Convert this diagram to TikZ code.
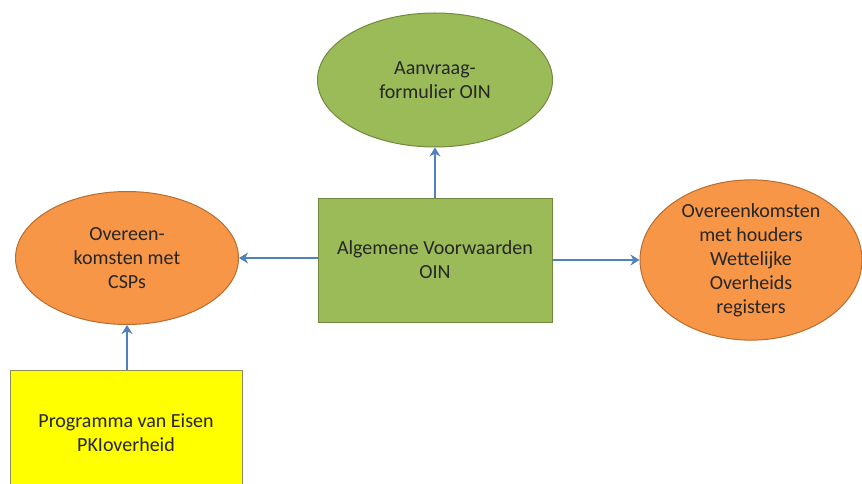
\documentclass[tikz,border=0pt]{standalone}
\usepackage{fontspec}
\setmainfont{Carlito}
\usetikzlibrary{shapes.geometric,arrows.meta}
\definecolor{oin}{HTML}{9BBB59}
\definecolor{oinb}{HTML}{71893F}
\definecolor{org}{HTML}{F79646}
\definecolor{orgb}{HTML}{B66D31}
\definecolor{ylw}{HTML}{FFFF00}
\definecolor{ylwb}{HTML}{8C8C5A}
\definecolor{arr}{HTML}{4F81BD}
\definecolor{txt}{HTML}{262626}
\begin{document}
\begin{tikzpicture}[x=1pt,y=-1pt,
  lbl/.style={text=txt,align=center,font=\fontsize{20}{24}\selectfont,inner sep=0pt},
  ell/.style={ellipse,draw,line width=1pt,lbl},
  boxn/.style={rectangle,draw,line width=1pt,lbl},
  conn/.style={draw=arr,line width=2.6pt,-{Stealth[length=9pt,width=11pt]}}]
\useasboundingbox (0,0) rectangle (862,484);
\node[ell,fill=oin,draw=oinb,minimum width=235pt,minimum height=134pt] (aan) at (435,80) {Aanvraag-\\formulier OIN};
\node[boxn,fill=oin,draw=oinb,minimum width=234pt,minimum height=124pt] (alg) at (435,260) {Algemene Voorwaarden\\OIN};
\node[ell,fill=org,draw=orgb,minimum width=223pt,minimum height=133pt] (csp) at (127,258) {Overeen-\\komsten met\\CSPs};
\node[ell,fill=org,draw=orgb,minimum width=222pt,minimum height=134pt] (reg) at (751,260) {Overeenkomsten\\met houders\\Wettelijke\\Overheids\\registers};
\node[boxn,fill=ylw,draw=ylwb,minimum width=232pt,minimum height=126pt] (pve) at (126,433) {Programma van Eisen\\PKIoverheid};
\draw[conn] (alg.north) -- (aan.south);
\draw[conn] (alg.west |- csp.east) -- (csp.east);
\draw[conn] (alg.east |- reg.west) -- (reg.west);
\draw[conn] (pve.north -| csp.south) -- (csp.south);
\end{tikzpicture}
\end{document}
